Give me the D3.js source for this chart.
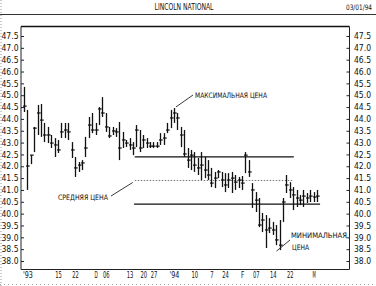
<!DOCTYPE html>
<html><head><meta charset="utf-8">
<script src="https://cdn.jsdelivr.net/npm/d3@7"></script>
<style>
html,body{margin:0;padding:0;background:#fff;}
svg{display:block;}
text{font-family:"DejaVu Sans Condensed","Liberation Sans Narrow","DejaVu Sans",sans-serif;fill:#111;}
</style></head>
<body>
<script>
// ---- data ----
const title = "LINCOLN NATIONAL";
const dateLabel = "03/01/94";
const highs = [45.35,44.38,42.47,43.66,44.59,44.63,43.83,43.66,43.32,43.19,43.11,43.83,43.83,43.83,43.02,42.39,42.18,42.26,43.24,44.08,44.25,43.83,44.50,44.92,44.25,43.66,43.66,43.61,43.87,43.45,43.11,43.19,43.02,43.74,43.53,43.32,43.19,43.02,43.02,43.02,43.40,43.40,43.83,44.38,44.46,44.25,43.66,43.53,42.77,42.69,42.60,42.35,42.60,42.39,42.26,41.93,41.76,41.84,41.76,41.71,41.71,41.76,41.63,41.55,41.59,42.60,42.26,41.29,40.91,40.66,40.03,39.94,39.81,39.65,39.52,39.73,40.66,41.63,41.33,41.12,41.00,40.79,41.00,40.87,41.00,40.91,41.00];
const lows  = [44.29,41.00,42.09,42.60,43.32,43.24,43.02,42.98,42.77,42.39,42.56,43.19,43.19,43.11,42.35,41.55,41.76,41.84,42.39,43.19,43.40,43.32,43.74,44.08,43.45,43.19,43.32,43.24,42.26,42.77,42.81,42.69,42.47,42.81,42.60,42.77,42.77,42.77,42.77,42.77,42.90,42.90,43.40,43.61,43.83,43.53,42.81,42.39,41.93,41.84,41.76,41.63,41.42,41.50,41.42,41.12,41.08,41.50,41.12,40.91,41.08,40.87,41.00,41.08,41.00,41.71,41.55,40.24,40.07,39.43,39.22,38.55,39.18,39.10,38.67,38.46,39.65,40.87,40.66,40.15,40.28,40.36,40.28,40.45,40.49,40.49,40.49];
const closes= [44.54,42.01,42.47,43.61,44.25,43.95,43.32,43.32,42.98,42.90,42.69,43.45,43.53,43.45,42.69,41.93,42.05,42.14,42.77,43.74,43.53,43.53,44.42,44.25,43.66,43.28,43.49,43.45,42.77,43.11,42.98,42.90,42.77,43.53,42.77,43.11,42.98,42.85,42.85,42.85,43.11,43.19,43.53,44.04,44.25,44.04,43.32,42.52,42.26,42.47,42.05,41.93,42.05,41.84,41.63,41.29,41.50,41.76,41.42,41.21,41.42,41.50,41.33,41.42,41.29,42.47,41.76,41.00,40.57,39.52,39.73,39.31,39.39,39.31,38.89,38.67,40.49,41.21,41.00,40.79,40.66,40.57,40.74,40.66,40.74,40.70,40.74];
const yTicks = [38.0,38.5,39.0,39.5,40.0,40.5,41.0,41.5,42.0,42.5,43.0,43.5,44.0,44.5,45.0,45.5,46.0,46.5,47.0,47.5];
const xTickIdx = [1,10,15,21,24,31,35,38,44,50,55,59,64,68,73,78,85];
const xLabels = ["'93","15","22","D","06","13","20","27","'94","10","7","24","F","07","14","22","M"];
const rangeLevels = [42.4, 41.4, 40.4];          // max, average, min price levels
const rangeStart = [32.5, 32.5, 32.3];
const rangeEnd   = [79.2, 79.0, 86.9];
const annMax = "МАКСИМАЛЬНАЯ ЦЕНА";
const annAvg = "СРЕДНЯЯ ЦЕНА";
const annMin1 = "МИНИМАЛЬНАЯ";
const annMin2 = "ЦЕНА";

// ---- drawing ----
const W = 376, H = 286;
const L = 21, R = 349.5, T = 26.5, B = 269.5;
const svg = d3.select("body").append("svg").attr("width", W).attr("height", H);

const x = d3.scaleLinear().domain([0, highs.length - 1]).range([24, 317]);
const y = d3.scaleLinear().domain([38.0, 47.5]).range([261, 36]);

// page decorations
svg.append("line").attr("x1",1).attr("x2",1).attr("y1",0).attr("y2",H)
  .attr("stroke","#999").attr("stroke-dasharray","1,2");
svg.append("line").attr("x1",0).attr("x2",W).attr("y1",284.5).attr("y2",284.5)
  .attr("stroke","#aaa").attr("stroke-dasharray","1,3");
svg.append("line").attr("x1",0).attr("x2",W).attr("y1",14.5).attr("y2",14.5)
  .attr("stroke","#333").attr("stroke-width",1.2);
svg.append("text").attr("x",184).attr("y",10).attr("text-anchor","middle")
  .attr("font-size",8.5).attr("textLength",59).attr("lengthAdjust","spacingAndGlyphs").text(title);
svg.append("text").attr("x",372).attr("y",10).attr("text-anchor","end")
  .attr("font-size",7.5).attr("textLength",26).attr("lengthAdjust","spacingAndGlyphs").text(dateLabel);

// frame
svg.append("line").attr("x1",L).attr("x2",R).attr("y1",T).attr("y2",T).attr("stroke","#111").attr("stroke-width",1.6);
svg.append("line").attr("x1",L).attr("x2",R).attr("y1",B).attr("y2",B).attr("stroke","#222").attr("stroke-width",1);

// axes
const fmt = d3.format(".1f");
const gl = svg.append("g").attr("transform",`translate(${L},0)`)
  .call(d3.axisLeft(y).tickValues(yTicks).tickFormat(fmt).tickSizeInner(-3).tickSizeOuter(0).tickPadding(2.5));
const gr = svg.append("g").attr("transform",`translate(${R},0)`)
  .call(d3.axisRight(y).tickValues(yTicks).tickFormat(fmt).tickSizeInner(-3).tickSizeOuter(0).tickPadding(4.5));
[gl, gr].forEach(g => {
  g.select(".domain").remove();
  g.selectAll("line").attr("stroke","#222");
  g.selectAll("text").attr("font-size",8.5).attr("font-family",null).style("fill","#111");
});
gl.append("line").attr("x1",0).attr("x2",0).attr("y1",T).attr("y2",B).attr("stroke","#222");
gr.append("line").attr("x1",0).attr("x2",0).attr("y1",T).attr("y2",B).attr("stroke","#222");

const gb = svg.append("g").attr("transform",`translate(0,${B})`)
  .call(d3.axisBottom(x).tickValues(xTickIdx).tickFormat((d,i)=>xLabels[i]).tickSize(0).tickPadding(2.5));
gb.select(".domain").remove();
gb.selectAll("text").attr("font-size",8).attr("font-family",null).style("fill","#111")
  .attr("textLength", (d,i) => Math.max(3, xLabels[i].length * 3.3))
  .attr("lengthAdjust","spacingAndGlyphs");

// price range lines
rangeLevels.forEach((v,i) => {
  svg.append("line").attr("x1",x(rangeStart[i])).attr("x2",x(rangeEnd[i]))
    .attr("y1",y(v)).attr("y2",y(v))
    .attr("stroke", i===1 ? "#777" : "#111")
    .attr("stroke-width", i===1 ? 1 : 1.2)
    .attr("stroke-dasharray", i===1 ? "1.5,1.5" : null);
});

// OHLC bars
const bars = svg.append("g");
highs.forEach((h,i) => {
  const cx = Math.round(x(i)) + 0.5;
  bars.append("line").attr("x1",cx).attr("x2",cx).attr("y1",y(h)).attr("y2",y(lows[i]))
    .attr("stroke","#111").attr("stroke-width",1.3);
  bars.append("line").attr("x1",cx-1.5).attr("x2",cx+2.2).attr("y1",y(closes[i])).attr("y2",y(closes[i]))
    .attr("stroke","#111").attr("stroke-width",1.2);
});

// annotations
const annFont = 7.5;
svg.append("text").attr("x",195).attr("y",98).attr("font-size",annFont)
  .attr("textLength",72).attr("lengthAdjust","spacingAndGlyphs").text(annMax);
svg.append("line").attr("x1",193).attr("y1",95).attr("x2",x(44)+2).attr("y2",y(highs[44])-1)
  .attr("stroke","#222").attr("stroke-width",0.9);
svg.append("text").attr("x",58).attr("y",200).attr("font-size",annFont)
  .attr("textLength",50).attr("lengthAdjust","spacingAndGlyphs").text(annAvg);
svg.append("line").attr("x1",111).attr("y1",196).attr("x2",x(rangeStart[1])-2).attr("y2",y(rangeLevels[1])+2)
  .attr("stroke","#222").attr("stroke-width",0.9);
svg.append("text").attr("x",291).attr("y",238).attr("font-size",annFont)
  .attr("textLength",56).attr("lengthAdjust","spacingAndGlyphs").text(annMin1);
svg.append("text").attr("x",292).attr("y",250).attr("font-size",annFont)
  .attr("textLength",17).attr("lengthAdjust","spacingAndGlyphs").text(annMin2);
svg.append("line").attr("x1",290).attr("y1",240).attr("x2",x(75)-3).attr("y2",y(lows[75])+1)
  .attr("stroke","#222").attr("stroke-width",0.9);
</script>
</body></html>
